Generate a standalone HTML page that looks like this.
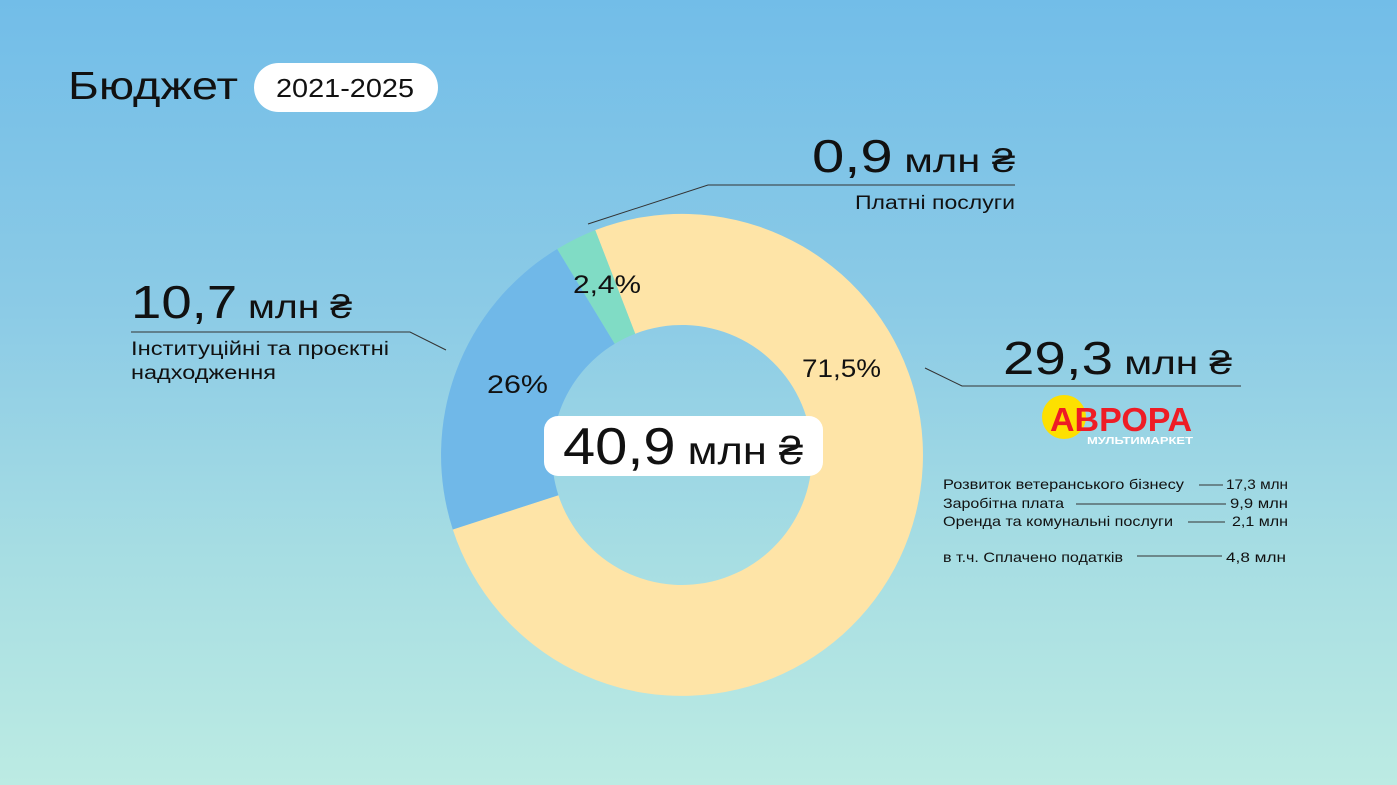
<!DOCTYPE html>
<html><head><meta charset="utf-8"><style>
html,body{margin:0;padding:0;}
body{width:1397px;height:785px;overflow:hidden;background:linear-gradient(180deg,#72bde8 0%,#8ccbe6 40%,#a6dde3 70%,#bcebe3 100%);font-family:"Liberation Sans","DejaVu Sans",sans-serif;}
svg{display:block}
</style></head><body>
<svg width="1397" height="785" viewBox="0 0 1397 785" font-family="Liberation Sans, DejaVu Sans, sans-serif">
<path d="M595.2,230.1 A241,241 0 1 1 452.8,529.5 L558.4,495.2 A130,130 0 1 0 635.2,333.7 Z" fill="#fee4a7"/>
<path d="M452.8,529.5 A241,241 0 0 1 557.2,249 L614.7,343.8 A130,130 0 0 0 558.4,495.2 Z" fill="#70b8e8"/>
<path d="M557.2,249 A241,241 0 0 1 595.2,230.1 L635.2,333.7 A130,130 0 0 0 614.7,343.8 Z" fill="#80dcc5"/>

<text x="68" y="99" font-size="39" fill="#111" textLength="170" lengthAdjust="spacingAndGlyphs">Бюджет</text>
<rect x="254" y="63" width="184" height="49" rx="24.5" fill="#fff"/>
<text x="276" y="97" font-size="26" fill="#111" textLength="138" lengthAdjust="spacingAndGlyphs">2021-2025</text>

<text x="812" y="172" fill="#111" textLength="203" lengthAdjust="spacingAndGlyphs"><tspan font-size="46">0,9</tspan><tspan font-size="33"> млн ₴</tspan></text>
<polyline points="1015,185 708,185 588,224" fill="none" stroke="#333" stroke-width="1"/>
<text x="855" y="209" font-size="19" fill="#111" textLength="160" lengthAdjust="spacingAndGlyphs">Платні послуги</text>

<text x="131" y="318" fill="#111" textLength="221" lengthAdjust="spacingAndGlyphs"><tspan font-size="46">10,7</tspan><tspan font-size="33"> млн ₴</tspan></text>
<polyline points="131,332 410,332 446,350" fill="none" stroke="#333" stroke-width="1"/>
<text x="131" y="355" font-size="19" fill="#111" textLength="258" lengthAdjust="spacingAndGlyphs">Інституційні та проєктні</text>
<text x="131" y="379" font-size="19" fill="#111" textLength="145" lengthAdjust="spacingAndGlyphs">надходження</text>

<text x="1003" y="374" fill="#111" textLength="229" lengthAdjust="spacingAndGlyphs"><tspan font-size="46">29,3</tspan><tspan font-size="33"> млн ₴</tspan></text>
<polyline points="1241,386 962,386 925,368" fill="none" stroke="#333" stroke-width="1"/>

<circle cx="1064" cy="417" r="22" fill="#fde000"/>
<text x="1050" y="431" font-size="33" font-weight="bold" fill="#ee1c25" textLength="142" lengthAdjust="spacingAndGlyphs">АВРОРА</text>
<text x="1087" y="444" font-size="10" font-weight="bold" fill="#fff" textLength="106" lengthAdjust="spacingAndGlyphs">МУЛЬТИМАРКЕТ</text>

<g font-size="14" fill="#111">
<text x="943" y="489" textLength="241" lengthAdjust="spacingAndGlyphs">Розвиток ветеранського бізнесу</text>
<text x="1226" y="489" textLength="62" lengthAdjust="spacingAndGlyphs">17,3 млн</text>
<text x="943" y="508" textLength="121" lengthAdjust="spacingAndGlyphs">Заробітна плата</text>
<text x="1230" y="508" textLength="58" lengthAdjust="spacingAndGlyphs">9,9 млн</text>
<text x="943" y="526" textLength="230" lengthAdjust="spacingAndGlyphs">Оренда та комунальні послуги</text>
<text x="1232" y="526" textLength="56" lengthAdjust="spacingAndGlyphs">2,1 млн</text>
<text x="943" y="562" textLength="180" lengthAdjust="spacingAndGlyphs">в т.ч. Сплачено податків</text>
<text x="1226" y="562" textLength="60" lengthAdjust="spacingAndGlyphs">4,8 млн</text>
</g>
<g stroke="#333" stroke-width="1">
<line x1="1199" y1="485" x2="1223" y2="485"/>
<line x1="1076" y1="504" x2="1226" y2="504"/>
<line x1="1188" y1="522" x2="1225" y2="522"/>
<line x1="1137" y1="556" x2="1222" y2="556"/>
</g>

<text x="573" y="293" font-size="25" fill="#111" textLength="68" lengthAdjust="spacingAndGlyphs">2,4%</text>
<text x="487" y="393" font-size="25" fill="#111" textLength="61" lengthAdjust="spacingAndGlyphs">26%</text>
<text x="802" y="377" font-size="25" fill="#111" textLength="79" lengthAdjust="spacingAndGlyphs">71,5%</text>

<rect x="544" y="416" width="279" height="60" rx="14" fill="#fff"/>
<text x="563" y="464" fill="#111" textLength="240" lengthAdjust="spacingAndGlyphs"><tspan font-size="52">40,9</tspan><tspan font-size="39"> млн ₴</tspan></text>
</svg>
</body></html>
